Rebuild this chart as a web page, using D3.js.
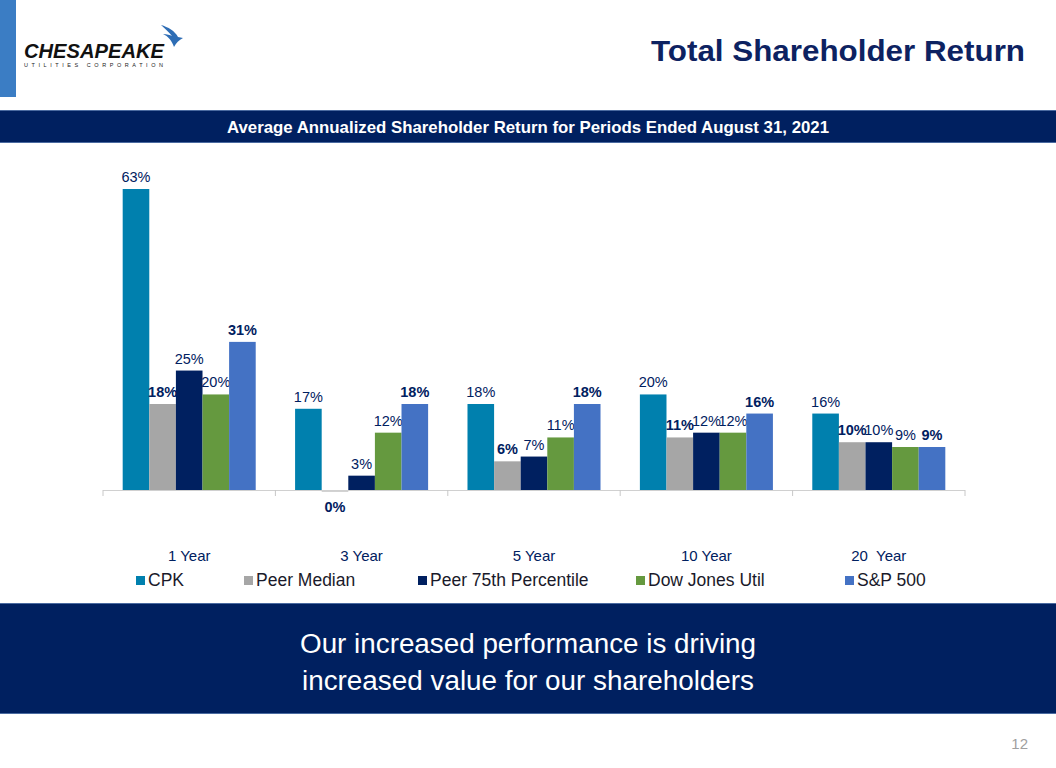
<!DOCTYPE html>
<html>
<head>
<meta charset="utf-8">
<script src="https://cdn.jsdelivr.net/npm/d3@7"></script>
<style>
  html, body { margin: 0; padding: 0; background: #fff; }
  svg { display: block; }
</style>
</head>
<body>
<svg id="chart" width="1056" height="768"></svg>
<script>
// ---- data ----
const categories = ["1 Year", "3 Year", "5 Year", "10 Year", "20  Year"];
const seriesNames = ["CPK", "Peer Median", "Peer 75th Percentile", "Dow Jones Util", "S&P 500"];
const cpk = [63, 17, 18, 20, 16];
const peerMedian = [18, 0, 6, 11, 10];
const peer75 = [25, 3, 7, 12, 10];
const dowJones = [20, 12, 11, 12, 9];
const sp500 = [31, 18, 18, 16, 9];
const boldSeries = [false, true, false, false, true];

const seriesValues = [cpk, peerMedian, peer75, dowJones, sp500];
const colors = ["#0080ae", "#a6a6a6", "#002060", "#65993f", "#4472c4"];
const navy = "#002060";
const FONT = "Liberation Sans, Arial, sans-serif";

const svg = d3.select("#chart");

// ---- header ----
svg.append("rect").attr("x", 0).attr("y", 0).attr("width", 16).attr("height", 97).attr("fill", "#3b7dc4");

// logo
const logo = svg.append("g");
logo.append("text").attr("x", 24).attr("y", 57.5)
  .attr("font-family", FONT).attr("font-weight", 900)
  .attr("font-style", "italic").attr("font-size", 21).attr("fill", "#111")
  .attr("textLength", 140).attr("lengthAdjust", "spacingAndGlyphs")
  .text("CHESAPEAKE");
logo.append("text").attr("x", 24).attr("y", 67)
  .attr("font-family", FONT).attr("font-size", 5.5)
  .attr("fill", "#222").attr("textLength", 139).attr("lengthAdjust", "spacing")
  .text("UTILITIES  CORPORATION");
logo.append("path")
  .attr("d", "M161,25 C168,27 175,31 178,37 L183,38 C179,40 176,43 174,47 C172,41 168,36 163,34 C167,34 170,35 172,36 C169,32 165,29 161,25 Z")
  .attr("fill", "#2e6db5");

svg.append("text").attr("x", 1025).attr("y", 61).attr("text-anchor", "end")
  .attr("font-family", FONT).attr("font-weight", "bold")
  .attr("font-size", 30).attr("fill", "#0d2261")
  .attr("textLength", 374).attr("lengthAdjust", "spacingAndGlyphs")
  .text("Total Shareholder Return");

// subtitle band
svg.append("rect").attr("x", 0).attr("y", 110).attr("width", 1056).attr("height", 33).attr("fill", navy);
svg.append("line").attr("x1", 0).attr("x2", 1056).attr("y1", 110.5).attr("y2", 110.5).attr("stroke", "#4a6aa0").attr("stroke-width", 1);
svg.append("line").attr("x1", 0).attr("x2", 1056).attr("y1", 142.5).attr("y2", 142.5).attr("stroke", "#4a6aa0").attr("stroke-width", 1);
svg.append("text").attr("x", 528).attr("y", 133).attr("text-anchor", "middle")
  .attr("font-family", FONT).attr("font-weight", "bold")
  .attr("font-size", 17).attr("fill", "#fff")
  .attr("textLength", 602).attr("lengthAdjust", "spacingAndGlyphs")
  .text("Average Annualized Shareholder Return for Periods Ended August 31, 2021");

// ---- chart ----
const x0 = d3.scaleBand().domain(categories).range([103, 965]).paddingInner(0).paddingOuter(0);
const x1 = d3.scaleBand().domain(seriesNames).range([0, x0.bandwidth()]).paddingOuter(0.74).paddingInner(0);
const y = d3.scaleLinear().domain([0, 63]).range([490, 189]);

const g = svg.append("g");
seriesNames.forEach((s, si) => {
  const vals = seriesValues[si];
  g.selectAll(null).data(categories).join("rect")
    .attr("x", (c) => x0(c) + x1(s))
    .attr("y", (c, i) => vals[i] === 0 ? y(0) : y(vals[i]))
    .attr("width", x1.bandwidth())
    .attr("height", (c, i) => vals[i] === 0 ? 1.5 : y(0) - y(vals[i]))
    .attr("fill", colors[si]);
  g.selectAll(null).data(categories).join("text")
    .attr("x", (c) => x0(c) + x1(s) + x1.bandwidth() / 2)
    .attr("y", (c, i) => vals[i] === 0 ? y(0) + 22 : y(vals[i]) - 7)
    .attr("text-anchor", "middle")
    .attr("font-family", FONT)
    .attr("font-weight", boldSeries[si] ? "bold" : "normal")
    .attr("font-size", 14.5).attr("fill", navy)
    .text((c, i) => vals[i] + "%");
});

// axis
const axis = d3.axisBottom(x0).tickSize(5).tickFormat("");
const axG = svg.append("g").attr("transform", "translate(0,490)").call(axis);
axG.select(".domain").attr("stroke", "#d0d0d0").attr("d", "M103,0.5H965");
axG.selectAll(".tick").remove();
const bounds = [103].concat(categories.map(c => x0(c) + x0.bandwidth()));
axG.selectAll("line.b").data(bounds).join("line").attr("class", "b")
  .attr("x1", d => d).attr("x2", d => d).attr("y1", 0).attr("y2", 6)
  .attr("stroke", "#c8c8c8");

// category labels
svg.selectAll("text.cat").data(categories).join("text").attr("class", "cat")
  .attr("x", (c) => x0(c) + x0.bandwidth() / 2)
  .attr("y", 561)
  .attr("text-anchor", "middle")
  .attr("font-family", FONT)
  .attr("font-size", 15).attr("fill", navy)
  .attr("xml:space", "preserve")
  .text(c => c);

// legend
const legendX = [136, 244, 418, 636, 845];
seriesNames.forEach((s, si) => {
  svg.append("rect").attr("x", legendX[si]).attr("y", 576).attr("width", 9).attr("height", 9).attr("fill", colors[si]);
  svg.append("text").attr("x", legendX[si] + 12).attr("y", 586)
    .attr("font-family", FONT)
    .attr("font-size", 17.5).attr("fill", "#1a1a2a").text(s);
});

// bottom band
svg.append("rect").attr("x", 0).attr("y", 603).attr("width", 1056).attr("height", 111).attr("fill", navy);
svg.append("line").attr("x1", 0).attr("x2", 1056).attr("y1", 603.5).attr("y2", 603.5).attr("stroke", "#4a6aa0");
svg.append("line").attr("x1", 0).attr("x2", 1056).attr("y1", 713.5).attr("y2", 713.5).attr("stroke", "#4a6aa0");
svg.append("text").attr("x", 528).attr("y", 653).attr("text-anchor", "middle")
  .attr("font-family", FONT)
  .attr("font-size", 27).attr("fill", "#fff")
  .attr("textLength", 456).attr("lengthAdjust", "spacingAndGlyphs")
  .text("Our increased performance is driving");
svg.append("text").attr("x", 528).attr("y", 690).attr("text-anchor", "middle")
  .attr("font-family", FONT)
  .attr("font-size", 27).attr("fill", "#fff")
  .attr("textLength", 452).attr("lengthAdjust", "spacingAndGlyphs")
  .text("increased value for our shareholders");

svg.append("text").attr("x", 1028).attr("y", 749).attr("text-anchor", "end")
  .attr("font-family", FONT)
  .attr("font-size", 15).attr("fill", "#a0a0a0").text("12");
</script>
</body>
</html>
